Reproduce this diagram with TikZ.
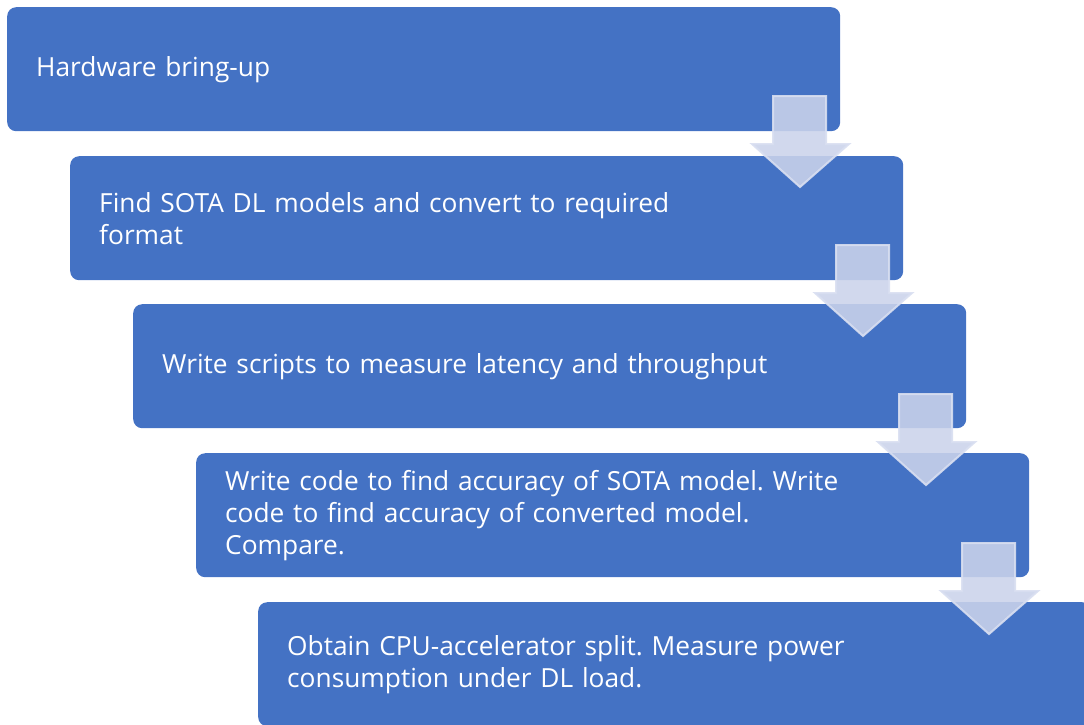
\documentclass[tikz,border=0pt]{standalone}
\usepackage{fontspec}
\setmainfont{Open Sans}
\frenchspacing
\definecolor{boxblue}{HTML}{4472C4}
\definecolor{arrfill}{HTML}{CBD3EB}
\definecolor{arredge}{HTML}{D9DFF1}
\begin{document}
\begin{tikzpicture}[x=1pt,y=-1pt,
  stepbox/.style={rectangle, fill=boxblue, rounded corners=9pt, minimum width=833pt, minimum height=124pt,
    text=white, align=left, text width=775pt, inner xsep=29pt, inner ysep=0pt, anchor=north west,
    font=\fontsize{26.3}{32}\selectfont},
  downarrow/.style={fill=arrfill, fill opacity=0.88, draw=arredge, draw opacity=0.9, line width=2pt, line join=miter}]
\useasboundingbox (0,0) rectangle (1084,724);
\clip (0,0) rectangle (1084,724);
\node[stepbox] (b1) at (7,7) {Hardware bring-up};
\node[stepbox] (b2) at (70,156) {Find SOTA DL models and convert to required\\format};
\node[stepbox] (b3) at (133,304) {Write scripts to measure latency and throughput};
\node[stepbox] (b4) at (196,453) {Write code to find accuracy of SOTA model. Write\\code to find accuracy of converted model.\\Compare.};
\node[stepbox] (b5) at (258,602) {Obtain CPU-accelerator split. Measure power\\consumption under DL load.};
\foreach \i in {0,1,2,3}{
  \begin{scope}[shift={(63*\i,149*\i)}]
    \draw[downarrow] (773,96) -- (826,96) -- (826,144) -- (849,144) -- (800,187) -- (752,144) -- (773,144) -- cycle;
  \end{scope}
}
\end{tikzpicture}
\end{document}
